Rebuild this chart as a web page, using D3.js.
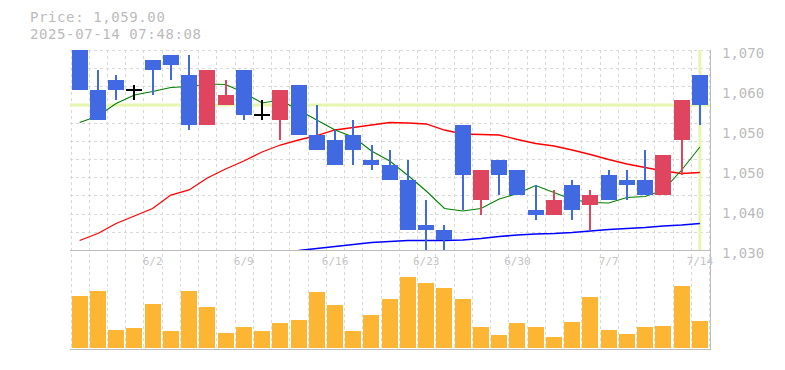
<!DOCTYPE html>
<html>
<head>
<meta charset="utf-8">
<script src="https://cdn.jsdelivr.net/npm/d3@7"></script>
<style>
  body { margin: 0; background: #fff; }
  text { font-family: "DejaVu Sans Mono", monospace; }
</style>
</head>
<body>
<div class="board"></div>
<script>
var dates = ["5/27","5/28","5/29","5/30","6/2","6/3","6/4","6/5","6/6","6/9","6/10","6/11","6/12","6/13",
  "6/16","6/17","6/18","6/19","6/20","6/23","6/24","6/25","6/26","6/27","6/30","7/1","7/2","7/3","7/4",
  "7/7","7/8","7/9","7/10","7/11","7/14"];
var opens  = [1071,1062,1064,1062,1068,1069,1065,1055,1059,1066,1057,1056,1063,1053,1052,1053,1048,1047,1044,1035,1034,1055,1040,1048,1046,1038,1037,1043,1039,1045,1044,1044,1041,1052,1065];
var highs  = [1072,1066,1065,1063,1068,1069,1069,1066,1064,1066,1060,1062,1063,1059,1054,1056,1051,1050,1048,1040,1035,1055,1046,1048,1046,1043,1042,1044,1042,1046,1046,1050,1049,1060,1065];
var lows   = [1062,1056,1060,1060,1061,1064,1054,1055,1059,1056,1056,1052,1053,1050,1047,1047,1046,1044,1034,1028,1028,1038,1037,1041,1041,1036,1037,1036,1034,1040,1040,1041,1041,1045,1055];
var closes = [1062,1056,1062,1062,1066,1067,1055,1066,1061,1057,1057,1062,1053,1050,1047,1050,1047,1044,1034,1034,1032,1045,1046,1045,1041,1037,1040,1038,1041,1040,1043,1041,1049,1060,1059];
var volumes = [52000,57000,18000,20000,44000,17000,57000,41000,15000,21000,17000,25000,28000,56000,43000,17000,33000,49000,71000,65000,
  60000,49000,21000,13000,25000,21000,11000,26000,51000,18000,14000,21000,22000,62000,27000];
var maShort = [1055.5,1056.8,1059.3,1061,1061.7,1062.5,1062.7,1063.2,1063.1,1061.5,1059.4,1060,1058,1056,1054,1052.6,1049.8,1047.8,
  1044.9,1041.8,1038.3,1037.8,1038.3,1040.2,1041.3,1042.9,1041.5,1040.1,1039.5,1039.4,1040.5,1040.7,1042,1046,1050.6];
var maMid = [1031.9,1033.3,1035.3,1036.8,1038.3,1041,1042,1044.4,1046.2,1047.8,1049.6,1051,1052,1052.9,1054,1054.5,1055,1055.5,
  1055.4,1055.2,1054,1053.2,1053.1,1053,1052.1,1051.3,1050.8,1050,1049.1,1048.1,1047.2,1046.5,1045.8,1045.3,1045.5];
var maLong = [null,null,null,null,null,null,null,null,null,null,null,null,1029.9,1030.3,1030.7,1031.1,1031.5,1031.7,1031.9,1031.9,
  1031.9,1032,1032.3,1032.7,1033,1033.2,1033.3,1033.5,1033.8,1034.1,1034.3,1034.5,1034.8,1035,1035.3];
var priceTicks = [1070,1062,1054,1046,1038,1030];
var priceTickLabels = ["1,070","1,060","1,050","1,050","1,040","1,030"];
var dateTicks = ["6/2","6/9","6/16","6/23","6/30","7/7","7/14"];
var lastPrice = 1059;
var headerLines = ["Price: 1,059.00","2025-07-14 07:48:08"];

var opts = {
  width: 785, height: 370,
  left: 70.5, right: 709,
  priceTop: 50, priceBottom: 250,
  volTop: 250, volBottom: 349
};

var svg = d3.select(".board").append("svg")
  .attr("width", opts.width)
  .attr("height", opts.height);

var x = d3.scaleBand()
  .domain(dates)
  .range([opts.left, opts.right])
  .paddingInner(0.12)
  .paddingOuter(0.06);

var y = d3.scaleLinear().domain([1030, 1070]).range([opts.priceBottom, opts.priceTop]);
var yVol = d3.scaleLinear().domain([0, 100000]).range([348, 248]);

var step = x.step();
var mid = function (d) { return x(d) + x.bandwidth() / 2; };

svg.append("clipPath").attr("id", "priceClip")
  .append("rect")
  .attr("x", 70).attr("y", opts.priceTop)
  .attr("width", 640).attr("height", opts.priceBottom - opts.priceTop);

// grid
var grid = svg.append("g")
  .attr("stroke", "#d9d9d9")
  .attr("stroke-dasharray", "3,3")
  .attr("shape-rendering", "crispEdges");

d3.range(dates.length + 1).forEach(function (k) {
  var gx = Math.round(opts.left + k * step) + 0.5;
  grid.append("line").attr("x1", gx).attr("x2", gx).attr("y1", opts.priceTop).attr("y2", opts.volBottom);
});
d3.range(11).forEach(function (k) {
  var gy = Math.round(opts.priceTop + k * 200 / 11) + 0.5;
  grid.append("line").attr("x1", 70).attr("x2", 710).attr("y1", gy).attr("y2", gy);
});

// frame
var frame = svg.append("g").attr("stroke", "#bdbdbd").attr("shape-rendering", "crispEdges");
frame.append("line").attr("x1", 70).attr("x2", 711).attr("y1", 250.5).attr("y2", 250.5);
frame.append("line").attr("x1", 70).attr("x2", 711).attr("y1", 349.5).attr("y2", 349.5);
frame.append("line").attr("x1", 710.5).attr("x2", 710.5).attr("y1", 50).attr("y2", 350);

var price = svg.append("g").attr("clip-path", "url(#priceClip)");

// current price / last day highlight
price.append("line")
  .attr("x1", 70).attr("x2", 710)
  .attr("y1", y(lastPrice)).attr("y2", y(lastPrice))
  .attr("stroke", "#e5f6ae").attr("stroke-width", 3);
price.append("line")
  .attr("x1", mid(dates[dates.length - 1])).attr("x2", mid(dates[dates.length - 1]))
  .attr("y1", opts.priceTop).attr("y2", opts.priceBottom)
  .attr("stroke", "#e5f6ae").attr("stroke-width", 3);

// moving averages
var drawLine = function (values, color, w) {
  var line = d3.line()
    .defined(function (d) { return d != null; })
    .x(function (d, i) { return mid(dates[i]); })
    .y(function (d) { return y(d); });
  price.append("path")
    .datum(values)
    .attr("d", line)
    .attr("fill", "none")
    .attr("stroke", color)
    .attr("stroke-width", w);
};
drawLine(maLong, "#0000ff", 1.6);
drawLine(maMid, "#ff0000", 1.3);
drawLine(maShort, "#008000", 1.1);

// candles
var candles = dates.map(function (d, i) {
  return { date: d, o: opens[i], h: highs[i], l: lows[i], c: closes[i] };
});

var candleColor = function (d) {
  if (d.o === d.c) return "#000";
  return d.c > d.o ? "#e0455f" : "#4169e1";
};

var g = price.selectAll("g.candle").data(candles).enter().append("g").attr("class", "candle");

g.append("line")
  .attr("x1", function (d) { return Math.round(mid(d.date)); })
  .attr("x2", function (d) { return Math.round(mid(d.date)); })
  .attr("y1", function (d) { return y(d.h); })
  .attr("y2", function (d) { return y(d.l); })
  .attr("stroke", candleColor)
  .attr("stroke-width", 2);

g.filter(function (d) { return d.o !== d.c; })
  .append("rect")
  .attr("x", function (d) { return Math.round(x(d.date)); })
  .attr("width", Math.round(x.bandwidth()))
  .attr("y", function (d) { return y(Math.max(d.o, d.c)); })
  .attr("height", function (d) { return y(Math.min(d.o, d.c)) - y(Math.max(d.o, d.c)); })
  .attr("fill", candleColor);

g.filter(function (d) { return d.o === d.c; })
  .append("line")
  .attr("x1", function (d) { return Math.round(x(d.date)); })
  .attr("x2", function (d) { return Math.round(x(d.date) + x.bandwidth()); })
  .attr("y1", function (d) { return y(d.c); })
  .attr("y2", function (d) { return y(d.c); })
  .attr("stroke", "#000")
  .attr("stroke-width", 2);

// volume
svg.append("g").selectAll("rect").data(volumes).enter().append("rect")
  .attr("x", function (d, i) { return Math.round(x(dates[i])); })
  .attr("width", Math.round(x.bandwidth()))
  .attr("y", function (d) { return yVol(d); })
  .attr("height", function (d) { return yVol(0) - yVol(d); })
  .attr("fill", "#fdb634");

// axes
var yAxis = svg.append("g")
  .attr("transform", "translate(714,0)")
  .call(d3.axisRight(y).tickValues(priceTicks).tickSize(0).tickPadding(8)
    .tickFormat(function (d, i) { return priceTickLabels[i]; }));
yAxis.select(".domain").remove();
yAxis.selectAll("text")
  .attr("dy", "0.5em")
  .attr("fill", "#bbbbbb")
  .style("font-size", "14px");

var xAxis = svg.append("g")
  .attr("transform", "translate(0,250)")
  .call(d3.axisBottom(x).tickValues(dateTicks).tickSize(0).tickPadding(7));
xAxis.select(".domain").remove();
xAxis.selectAll("text")
  .attr("fill", "#c4c4c4")
  .style("font-size", "11px");

// header
svg.selectAll("text.head").data(headerLines).enter().append("text")
  .attr("class", "head")
  .attr("x", 30)
  .attr("y", function (d, i) { return 22 + i * 17; })
  .attr("fill", "#bbbbbb")
  .style("font-size", "14px")
  .style("letter-spacing", "0.6px")
  .text(function (d) { return d; });
</script>
</body>
</html>
